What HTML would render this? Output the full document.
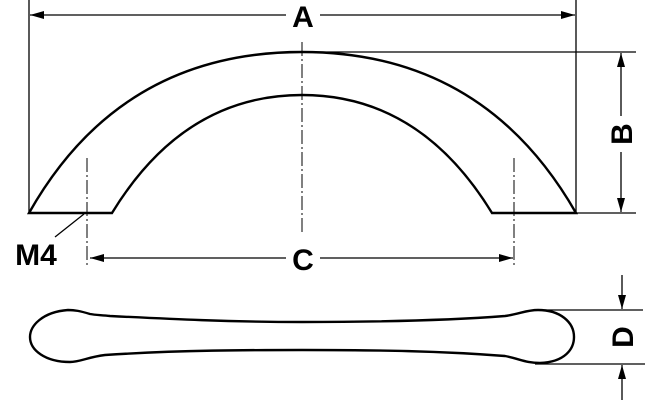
<!DOCTYPE html><html><head><style>body{margin:0;background:#fff}svg{display:block}</style></head><body>
<svg width="659" height="400" xmlns="http://www.w3.org/2000/svg" font-family="Liberation Sans, sans-serif" font-weight="bold">
<defs><marker id="a" markerWidth="14" markerHeight="8" refX="14" refY="4" orient="auto" markerUnits="userSpaceOnUse"><path d="M0,0L14,4L0,8z" fill="#000"/></marker></defs>
<g stroke="#000" fill="none" stroke-width="1.3">
<line x1="29" y1="0" x2="29" y2="213"/><line x1="576" y1="0" x2="576" y2="213"/>
<line x1="286" y1="15" x2="30" y2="15" marker-end="url(#a)"/><line x1="320" y1="15" x2="575" y2="15" marker-end="url(#a)"/>
<line x1="302" y1="52" x2="636" y2="52"/><line x1="576" y1="213" x2="636" y2="213"/>
<line x1="621" y1="116" x2="621" y2="53" marker-end="url(#a)"/><line x1="621" y1="152" x2="621" y2="212" marker-end="url(#a)"/>
<line x1="286" y1="258" x2="90" y2="258" marker-end="url(#a)"/><line x1="320" y1="258" x2="513" y2="258" marker-end="url(#a)"/>
<line x1="55" y1="237" x2="84" y2="214"/>
<line x1="535" y1="310" x2="643" y2="310"/><line x1="535" y1="364" x2="645" y2="364"/>
<line x1="622" y1="275" x2="622" y2="309" marker-end="url(#a)"/><line x1="622" y1="400" x2="622" y2="365" marker-end="url(#a)"/>
<g stroke-dasharray="14,3,2,3" stroke-width="1"><line x1="302" y1="42" x2="302" y2="232"/><line x1="87" y1="158" x2="87" y2="265"/><line x1="514" y1="158" x2="514" y2="265"/></g>
<g stroke-width="2.4">
<path d="M29,213 Q120,52 302,52 Q484,52 576,213 L492,213 Q420,95 302,95 Q184,95 112,213 Z"/>
<path d="M90,314 C80,311 75,310 68,310 C42,312 30,326 30,337 C30,350 45,362 70,362 C80,362 88,357 105,355 C180,350 250,350 302,350 C380,350 440,351 505,356 C520,359 526,363 540,363 C565,362 574,349 574,337 C574,322 560,310 538,310 C526,310 520,314 505,316 C440,321 370,322 302,322 C230,322 170,319 110,316 C100,315 95,315 90,314 Z"/>
</g></g>
<g font-size="30" text-anchor="middle">
<text x="303" y="27">A</text><text x="303" y="270">C</text><text x="36" y="265">M4</text>
<text transform="translate(632,134) rotate(-90)">B</text><text transform="translate(633,337) rotate(-90)">D</text>
</g>
</svg></body></html>
